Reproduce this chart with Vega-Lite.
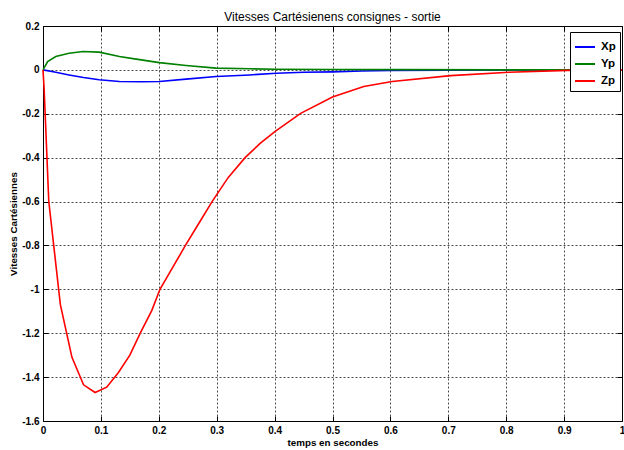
{
  "$schema": "https://vega.github.io/schema/vega-lite/v6.json",
  "width": 579,
  "height": 395,
  "autosize": "none",
  "padding": {"left": 43, "top": 26, "right": 2, "bottom": 29},
  "background": "white",
  "title": {"text": "Vitesses Cartésienens consignes - sortie", "fontSize": 12, "fontWeight": "normal", "font": "Liberation Sans Narrow, Liberation Sans, sans-serif", "offset": -3, "anchor": "middle", "color": "#000"},
  "config": {
    "view": {"stroke": "#000", "strokeWidth": 1},
    "axis": {
      "domain": false,
      "tickSize": -5,
      "tickColor": "#000",
      "labelPadding": 9,
      "labelFont": "Liberation Sans Narrow, Liberation Sans, sans-serif",
      "labelFontSize": 10,
      "labelFontWeight": "bold",
      "labelColor": "#000",
      "titleFont": "Liberation Sans Narrow, Liberation Sans, sans-serif",
      "titleFontSize": 9.8,
      "titleFontWeight": "bold",
      "titleColor": "#000",
      "gridColor": "#000",
      "gridDash": [2, 2],
      "gridOpacity": 0.7
    },
    "legend": {
      "labelFont": "Liberation Sans Narrow, Liberation Sans, sans-serif",
      "labelFontSize": 11.5,
      "labelFontWeight": "bold",
      "labelColor": "#000"
    }
  },
  "data": {"values": [
    {"t": 0, "v": 0, "s": "Xp"},
    {"t": 0.02, "v": -0.01, "s": "Xp"},
    {"t": 0.045, "v": -0.023, "s": "Xp"},
    {"t": 0.07, "v": -0.035, "s": "Xp"},
    {"t": 0.097, "v": -0.045, "s": "Xp"},
    {"t": 0.132, "v": -0.053, "s": "Xp"},
    {"t": 0.17, "v": -0.054, "s": "Xp"},
    {"t": 0.201, "v": -0.053, "s": "Xp"},
    {"t": 0.247, "v": -0.042, "s": "Xp"},
    {"t": 0.299, "v": -0.03, "s": "Xp"},
    {"t": 0.357, "v": -0.023, "s": "Xp"},
    {"t": 0.403, "v": -0.015, "s": "Xp"},
    {"t": 0.45, "v": -0.011, "s": "Xp"},
    {"t": 0.5, "v": -0.009, "s": "Xp"},
    {"t": 0.55, "v": -0.005, "s": "Xp"},
    {"t": 0.6, "v": -0.003, "s": "Xp"},
    {"t": 0.7, "v": -0.001, "s": "Xp"},
    {"t": 0.8, "v": 0, "s": "Xp"},
    {"t": 1, "v": 0, "s": "Xp"},
    {"t": 0, "v": 0, "s": "Yp"},
    {"t": 0.008, "v": 0.038, "s": "Yp"},
    {"t": 0.022, "v": 0.061, "s": "Yp"},
    {"t": 0.045, "v": 0.076, "s": "Yp"},
    {"t": 0.069, "v": 0.084, "s": "Yp"},
    {"t": 0.097, "v": 0.081, "s": "Yp"},
    {"t": 0.132, "v": 0.061, "s": "Yp"},
    {"t": 0.161, "v": 0.049, "s": "Yp"},
    {"t": 0.201, "v": 0.033, "s": "Yp"},
    {"t": 0.247, "v": 0.02, "s": "Yp"},
    {"t": 0.299, "v": 0.008, "s": "Yp"},
    {"t": 0.357, "v": 0.005, "s": "Yp"},
    {"t": 0.403, "v": 0.003, "s": "Yp"},
    {"t": 0.5, "v": 0.002, "s": "Yp"},
    {"t": 0.6, "v": 0.001, "s": "Yp"},
    {"t": 0.8, "v": 0, "s": "Yp"},
    {"t": 1, "v": 0, "s": "Yp"},
    {"t": 0, "v": 0, "s": "Zp"},
    {"t": 0.002, "v": -0.09, "s": "Zp"},
    {"t": 0.01, "v": -0.6, "s": "Zp"},
    {"t": 0.03, "v": -1.07, "s": "Zp"},
    {"t": 0.05, "v": -1.31, "s": "Zp"},
    {"t": 0.07, "v": -1.435, "s": "Zp"},
    {"t": 0.09, "v": -1.47, "s": "Zp"},
    {"t": 0.11, "v": -1.446, "s": "Zp"},
    {"t": 0.13, "v": -1.38, "s": "Zp"},
    {"t": 0.15, "v": -1.3, "s": "Zp"},
    {"t": 0.168, "v": -1.2, "s": "Zp"},
    {"t": 0.188, "v": -1.096, "s": "Zp"},
    {"t": 0.202, "v": -1.0, "s": "Zp"},
    {"t": 0.224, "v": -0.9, "s": "Zp"},
    {"t": 0.246, "v": -0.8, "s": "Zp"},
    {"t": 0.269, "v": -0.7, "s": "Zp"},
    {"t": 0.292, "v": -0.6, "s": "Zp"},
    {"t": 0.32, "v": -0.49, "s": "Zp"},
    {"t": 0.349, "v": -0.4, "s": "Zp"},
    {"t": 0.375, "v": -0.335, "s": "Zp"},
    {"t": 0.401, "v": -0.28, "s": "Zp"},
    {"t": 0.445, "v": -0.198, "s": "Zp"},
    {"t": 0.5, "v": -0.124, "s": "Zp"},
    {"t": 0.554, "v": -0.076, "s": "Zp"},
    {"t": 0.603, "v": -0.053, "s": "Zp"},
    {"t": 0.704, "v": -0.026, "s": "Zp"},
    {"t": 0.805, "v": -0.011, "s": "Zp"},
    {"t": 0.906, "v": -0.002, "s": "Zp"},
    {"t": 1, "v": 0, "s": "Zp"}
  ]},
  "layer": [
    {
      "mark": {"type": "line", "strokeWidth": 1.6},
      "encoding": {
        "x": {"field": "t", "type": "quantitative", "scale": {"domain": [0, 1], "nice": false, "zero": false},
              "axis": {"title": "temps en secondes", "values": [0, 0.1, 0.2, 0.3, 0.4, 0.5, 0.6, 0.7, 0.8, 0.9, 1], "labelExpr": "toString(round(datum.value*10)/10)", "titlePadding": 2, "labelFlush": false}},
        "y": {"field": "v", "type": "quantitative", "scale": {"domain": [-1.6, 0.2], "nice": false, "zero": false},
              "axis": {"title": "Vitesses Cartésiennes", "values": [-1.6, -1.4, -1.2, -1, -0.8, -0.6, -0.4, -0.2, 0, 0.2], "labelExpr": "toString(round(datum.value*10)/10)", "titlePadding": 3}},
        "color": {"field": "s", "type": "nominal", "scale": {"domain": ["Xp", "Yp", "Zp"], "range": ["#0000ff", "#008000", "#ff0000"]},
                  "legend": {"title": null, "orient": "none", "legendX": 527, "legendY": 6, "symbolType": "stroke", "symbolSize": 400, "symbolStrokeWidth": 2, "strokeColor": "#000", "fillColor": "#fff", "padding": 4, "rowPadding": 0, "labelOffset": 5}},
        "order": {"field": "t", "type": "quantitative"}
      }
    },
    {
      "mark": {"type": "line", "opacity": 0},
      "encoding": {
        "x": {"field": "t", "type": "quantitative", "axis": {"orient": "top", "labels": false, "grid": false, "title": null, "values": [0, 0.1, 0.2, 0.3, 0.4, 0.5, 0.6, 0.7, 0.8, 0.9, 1]}},
        "y": {"field": "v", "type": "quantitative", "axis": {"orient": "right", "labels": false, "grid": false, "title": null, "values": [-1.6, -1.4, -1.2, -1, -0.8, -0.6, -0.4, -0.2, 0, 0.2]}},
        "detail": {"field": "s", "type": "nominal"}
      }
    }
  ],
  "resolve": {"axis": {"x": "independent", "y": "independent"}}
}
